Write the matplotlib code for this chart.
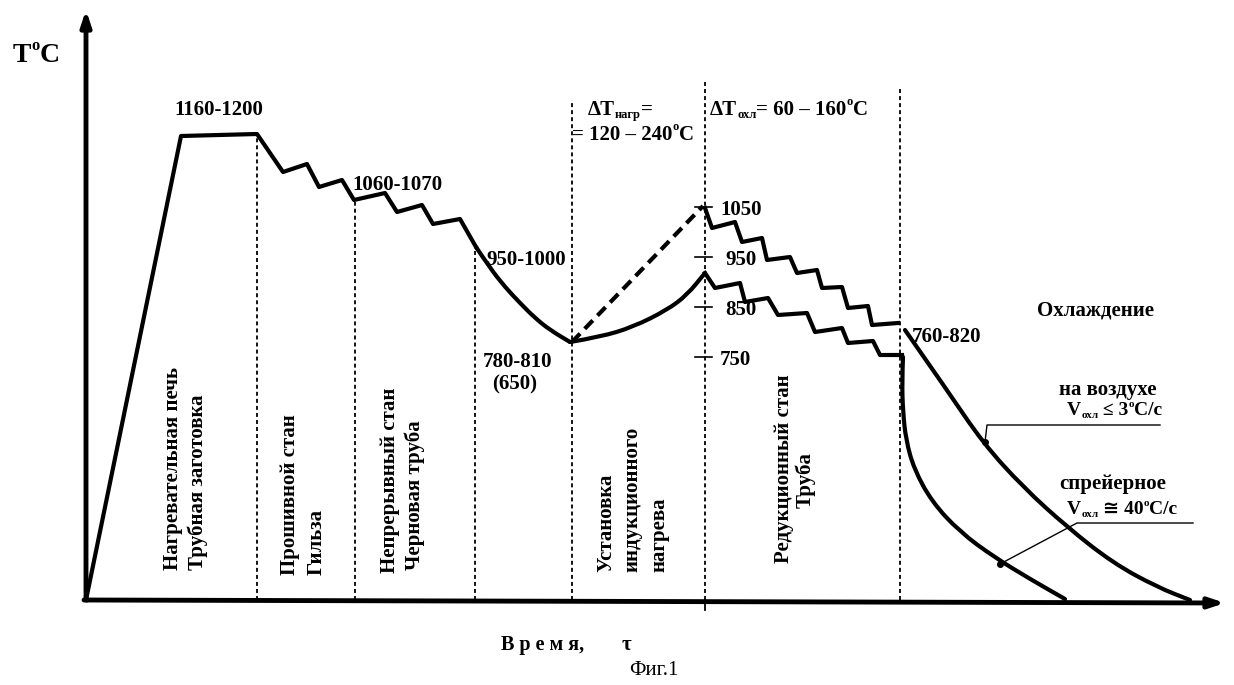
import matplotlib
matplotlib.use("Agg")
import matplotlib.pyplot as plt
from matplotlib.path import Path
from matplotlib.patches import PathPatch

plt.rcParams['font.family'] = ['Liberation Serif', 'DejaVu Serif', 'DejaVu Sans']
plt.rcParams['font.weight'] = 'bold'

# ---- data: time (arbitrary units) and temperature, deg C ----
# heating furnace -> piercing mill -> continuous mill
main_t = [0, 9.5, 17.1, 19.7, 22.1, 23.3, 25.6, 26.8, 29.9, 31.1, 33.6, 34.7, 37.4, 39.0]
main_T = [264, 1192, 1196, 1120, 1136, 1090, 1104, 1064, 1078, 1040, 1054, 1016, 1026, 970]

# transfer to induction unit (cooling in air)
trans_t = [39.0, 40.4, 41.9, 43.4, 44.9, 46.4, 48.4]
trans_T = [970, 928, 890, 858, 828, 804, 780]

# induction heating (solid = lower variant, dashed = upper variant)
ind_t = [48.4, 51.4, 54.7, 58.1, 60.1, 61.9]
ind_T = [780, 790, 810, 844, 874, 918]
ind_dash_t = [48.6, 61.7]
ind_dash_T = [780, 1052]

# reduction mill, two variants
red_hi_t = [61.9, 62.6, 64.9, 65.6, 67.6, 68.1, 70.4, 71.1, 73.1, 73.6, 75.6, 76.2, 78.2, 78.6, 81.2]
red_hi_T = [1048, 1008, 1020, 980, 988, 944, 950, 918, 924, 888, 890, 848, 852, 814, 818]
red_lo_t = [61.9, 62.9, 65.4, 65.9, 68.2, 69.2, 72.1, 72.9, 75.6, 76.2, 78.7, 79.4, 81.6]
red_lo_T = [918, 888, 898, 860, 868, 834, 838, 800, 808, 778, 782, 754, 754]

# cooling
air_t = [81.9, 86.1, 89.7, 93.7, 98.1, 102.7, 107.1, 110.4]
air_T = [804, 684, 578, 490, 410, 338, 290, 264]
spray_t = [81.7, 81.6, 81.7, 82.0, 82.8, 84.6, 87.4, 90.8, 94.4, 97.9]
spray_T = [750, 700, 640, 584, 526, 460, 400, 350, 306, 266]

# stage boundaries (time) and top of each dashed line
bound_t = [17.1, 26.9, 38.9, 48.6, 61.9, 81.4]
bound_top = [1188, 1064, 968, 1264, 1300, 1290]

scale_T = [1050, 950, 850, 750]
T_base = 264

# ---- figure ----
fig = plt.figure(figsize=(12.34, 6.85), dpi=100)
ax = fig.add_axes([0, 0, 1, 1])
ax.set_xlim(-8.6, 114.8)
ax.set_ylim(94, 1464)
ax.axis('off')

# axes with arrows
arr = dict(arrowstyle='-|>,head_length=0.9,head_width=0.3', lw=3.5, color='k',
           shrinkA=0, shrinkB=0)
ax.annotate('', xy=(0, 1444), xytext=(0, T_base), arrowprops=arr)
ax.annotate('', xy=(113.9, T_base - 6), xytext=(-0.2, T_base), arrowprops=arr)

# dashed stage boundaries
for t, top in zip(bound_t, bound_top):
    ax.plot([t, t], [T_base, top], color='k', lw=1.3, ls=(0, (2.2, 1.7)))
ax.plot([61.9, 61.9], [T_base, 244], color='k', lw=1.3)

lw = 3


def smooth(t, T):
    # quadratic spline through the read points (midpoints as knots)
    verts = [(t[0], T[0])]
    codes = [Path.MOVETO]
    for i in range(1, len(t) - 1):
        verts += [(t[i], T[i]), ((t[i] + t[i + 1]) / 2, (T[i] + T[i + 1]) / 2)]
        codes += [Path.CURVE3, Path.CURVE3]
    verts.append((t[-1], T[-1]))
    codes.append(Path.LINETO)
    ax.add_patch(PathPatch(Path(verts, codes), fill=False, lw=lw, ec='k',
                           capstyle='round'))


# temperature curves
ax.plot(main_t, main_T, color='k', lw=lw)
smooth(trans_t, trans_T)
smooth(ind_t, ind_T)
ax.plot(ind_dash_t, ind_dash_T, color='k', lw=lw, ls=(0, (2.8, 1.6)))
ax.plot(red_hi_t, red_hi_T, color='k', lw=lw)
ax.plot(red_lo_t, red_lo_T, color='k', lw=lw)
smooth(air_t, air_T)
smooth(spray_t, spray_T)

# small scale on reduction-mill boundary
for T in scale_T:
    ax.plot([60.9, 62.6], [T, T], color='k', lw=1.2)

# leader lines for cooling labels
ax.plot([89.9, 90.1, 107.4], [580, 614, 614], color='k', lw=1.0)
ax.plot([91.4, 99.1, 110.7], [336, 418, 418], color='k', lw=1.0)
ax.plot([89.9, 91.4], [580, 336], 'o', color='k', ms=4)


def chain(x, y, parts):
    # parts: (text, fontsize, vertical offset in points)
    prev = None
    for s, size, dy in parts:
        if prev is None:
            prev = ax.text(x, y, s, fontsize=size, ha='left', va='baseline')
        else:
            prev = ax.annotate(s, xy=(1, y), xycoords=(prev, 'data'), xytext=(0, dy),
                               textcoords='offset points', fontsize=size,
                               ha='left', va='baseline')


chain(-7.3, 1340, [("T", 20, 0), ("o", 12, 9), ("C", 20, 0)])

num = dict(fontsize=15, va='baseline')
ax.text(13.3, 1234, "1160-1200", ha='center', **num)
ax.text(26.6, 1084, "1060-1070", ha='left', **num)
ax.text(40.0, 934, "950-1000", ha='left', **num)
ax.text(39.7, 730, "780-810", ha='left', **num)
ax.text(40.6, 686, "(650)", ha='left', **num)
ax.text(82.6, 780, "760-820", ha='left', **num)
for T, x in zip(scale_T, [63.4, 63.9, 63.9, 63.4]):
    ax.text(x, T - 16, str(T), ha='left', **num)

chain(50.2, 1234, [("ΔT", 15, 0), ("нагр", 9, -2), ("=", 15, 0)])
chain(48.6, 1184, [("= 120 – 240", 15, 0), ("o", 9, 7), ("C", 15, 0)])
chain(62.4, 1234, [("ΔT", 15, 0), ("охл", 9, -2), ("= 60 – 160", 15, 0), ("o", 9, 7), ("C", 15, 0)])

ax.text(95.1, 834, "Охлаждение", fontsize=15, ha='left', va='baseline')
ax.text(102.2, 674, "на воздухе", fontsize=15, ha='center', va='baseline')
chain(98.1, 634, [("V", 14, 0), ("охл", 8, -2), (" ≤ 3", 14, 0), ("o", 8, 6), ("C/c", 14, 0)])
ax.text(102.7, 486, "спрейерное", fontsize=15, ha='center', va='baseline')
chain(98.1, 436, [("V", 14, 0), ("охл", 8, -2), (" ≅ 40", 14, 0), ("o", 8, 6), ("C/c", 14, 0)])

# stage names, vertical
rot = dict(fontsize=15, rotation=90, ha='center')
ax.text(8.7, 324, "Нагревательная печь", va='bottom', **rot)
ax.text(11.2, 324, "Трубная заготовка", va='bottom', **rot)
ax.text(20.4, 314, "Прошивной стан", va='bottom', **rot)
ax.text(23.1, 314, "Гильза", va='bottom', **rot)
ax.text(30.4, 318, "Непрерывный стан", va='bottom', **rot)
ax.text(32.9, 324, "Черновая труба", va='bottom', **rot)
ax.text(52.0, 320, "Установка", va='bottom', **rot)
ax.text(54.6, 320, "индукционного", va='bottom', **rot)
ax.text(57.3, 320, "нагрева", va='bottom', **rot)
ax.text(69.8, 338, "Редукционный стан", va='bottom', **rot)
ax.text(71.9, 504, "Труба", va='center', **rot)

ax.text(41.5, 164, "В р е м я,", fontsize=14.5, ha='left', va='baseline')
ax.text(53.6, 164, "τ", fontsize=15, ha='left', va='baseline')
ax.text(54.3, 114, "Фиг.1", fontsize=15, fontweight='normal', ha='left', va='baseline')

fig.savefig("out.png", dpi=100, facecolor='white')
